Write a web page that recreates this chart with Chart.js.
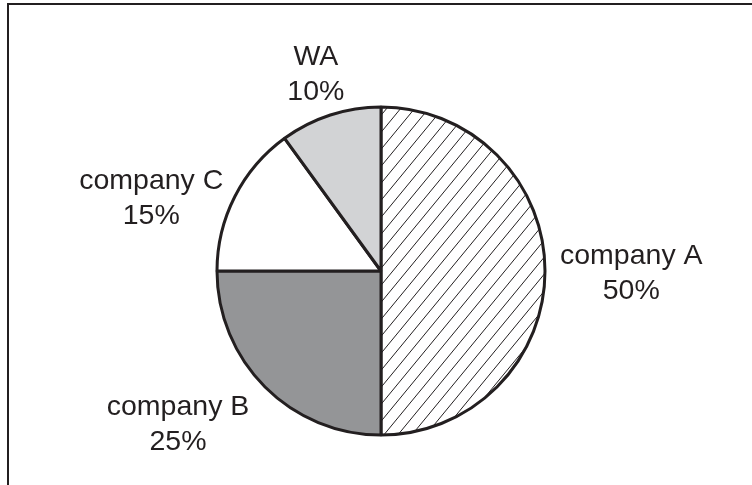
<!DOCTYPE html>
<html>
<head>
<meta charset="utf-8">
<script src="https://cdn.jsdelivr.net/npm/chart.js@4"></script>
<style>
  html, body { margin: 0; padding: 0; background: #fff; }
  #wrap { position: relative; width: 752px; height: 485px; overflow: hidden; }
  #frame { position: absolute; left: 7px; top: 3px; width: 800px; height: 600px;
           border-top: 2px solid #231f20; border-left: 2px solid #231f20; pointer-events: none; }
  canvas { position: absolute; left: 0; top: 0; }
</style>
</head>
<body>
<div id="wrap">
  <canvas id="c" width="752" height="485"></canvas>
  <div id="frame"></div>
</div>
<script>
// ---- data ----
const categories = ['company A', 'company B', 'company C', 'WA'];
const shares = [50, 25, 15, 10];
const percentLabels = shares.map(v => v + '%');

// ---- styles ----
const ink = '#231f20';
function hatchPattern() {
  const tw = 14, th = 17;
  const t = document.createElement('canvas');
  t.width = tw; t.height = th;
  const g = t.getContext('2d');
  g.fillStyle = '#ffffff';
  g.fillRect(0, 0, tw, th);
  g.strokeStyle = ink;
  g.lineWidth = 1;
  for (const s of [-tw, 0, tw]) {
    g.beginPath();
    g.moveTo(s, th);
    g.lineTo(s + tw, 0);
    g.stroke();
  }
  return document.getElementById('c').getContext('2d').createPattern(t, 'repeat');
}
const fills = [hatchPattern(), '#949597', '#ffffff', '#d2d3d5'];

// label placement tweaks (style only)
const labelGap = 15;
const labelNudge = [[0, 0], [-26, 5], [-6, 19], [-1, -2]];

const labelPlugin = {
  id: 'outLabels',
  afterDatasetsDraw(chart) {
    const ctx = chart.ctx;
    const meta = chart.getDatasetMeta(0);
    ctx.save();
    ctx.font = '28.5px "Liberation Sans", Arial, sans-serif';
    ctx.fillStyle = ink;
    ctx.textAlign = 'center';
    ctx.textBaseline = 'alphabetic';
    meta.data.forEach((arc, i) => {
      const p = arc.getProps(['x', 'y', 'startAngle', 'endAngle', 'outerRadius'], true);
      const mid = (p.startAngle + p.endAngle) / 2;
      const dx = Math.cos(mid), dy = Math.sin(mid);
      const l1 = chart.data.labels[i];
      const l2 = percentLabels[i];
      const w = Math.max(ctx.measureText(l1).width, ctx.measureText(l2).width);
      const h = 55;
      const r = p.outerRadius + labelGap;
      let cx = p.x + dx * r + dx * w / 2 + labelNudge[i][0];
      let cy = p.y + dy * r + dy * h / 2 + labelNudge[i][1];
      ctx.fillText(l1, cx, cy - 7.5);
      ctx.fillText(l2, cx, cy + 27.5);
    });
    ctx.restore();
  }
};

new Chart(document.getElementById('c'), {
  type: 'pie',
  data: {
    labels: categories,
    datasets: [{
      data: shares,
      backgroundColor: fills,
      borderColor: ink,
      borderWidth: 3,
      hoverOffset: 0
    }]
  },
  options: {
    responsive: false,
    animation: false,
    radius: 164,
    layout: { padding: { left: 10, right: 0, top: 70, bottom: 13 } },
    plugins: { legend: { display: false }, tooltip: { enabled: false } }
  },
  plugins: [labelPlugin]
});
</script>
</body>
</html>
